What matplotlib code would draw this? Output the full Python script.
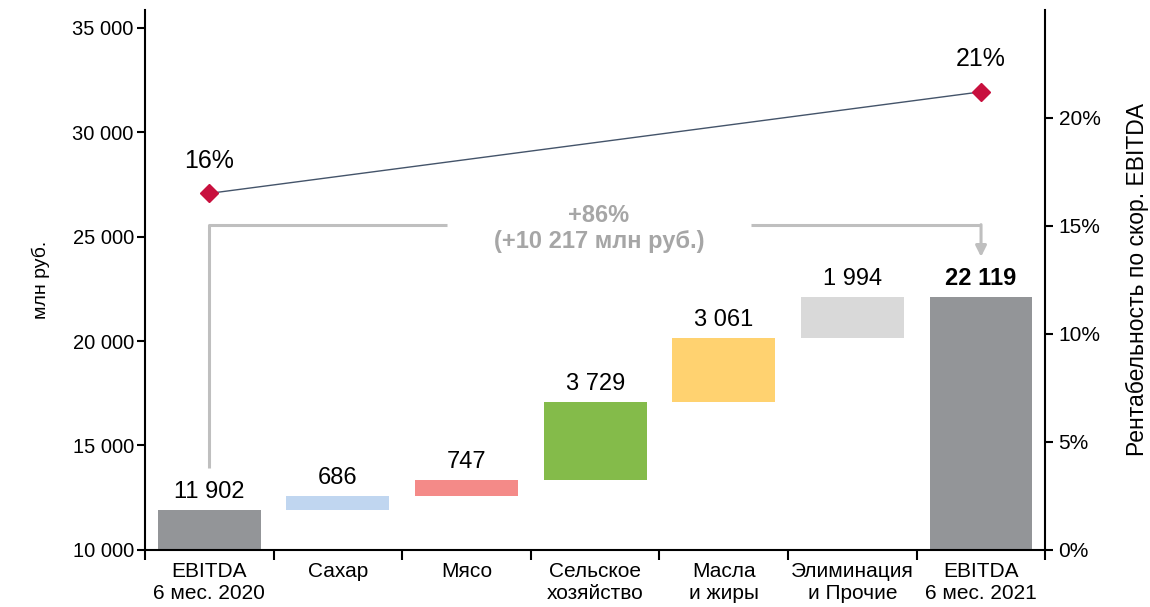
import matplotlib.pyplot as plt
import numpy as np
from matplotlib.ticker import FuncFormatter

plt.rcParams['font.family'] = ['Liberation Sans', 'DejaVu Sans']

# data
categories = ['EBITDA\n6 мес. 2020', 'Сахар', 'Мясо', 'Сельское\nхозяйство',
              'Масла\nи жиры', 'Элиминация\nи Прочие', 'EBITDA\n6 мес. 2021']
start_value = 11902
deltas = [686, 747, 3729, 3061, 1994]
end_value = 22119
labels = ['11 902', '686', '747', '3 729', '3 061', '1 994', '22 119']
colors = ['#939598', '#C0D6F0', '#F48A88', '#84BB4A', '#FFD270', '#D9D9D9', '#939598']
margin_x = [0, 6]
margin_vals = [16.5, 21.2]
margin_labels = ['16%', '21%']
growth_text = '+86%\n(+10 217 млн руб.)'

# waterfall bottoms/heights
bottoms = [0]
heights = [start_value]
run = start_value
for d in deltas:
    bottoms.append(run)
    heights.append(d)
    run += d
bottoms.append(0)
heights.append(end_value)

fig = plt.figure(figsize=(11.5, 6.07), dpi=100, facecolor='white')
ax = fig.add_axes([0.126, 0.094, 0.783, 0.89])
x = np.arange(len(categories))
ax.bar(x, heights, bottom=bottoms, width=0.8, color=colors)
ax.set_xlim(-0.5, 6.5)
ax.set_ylim(10000, 35860)

for i in range(len(x)):
    top = bottoms[i] + heights[i]
    ax.annotate(labels[i], xy=(x[i], top), xytext=(0, 5), textcoords='offset points',
                ha='center', va='bottom', fontsize=17,
                fontweight='bold' if i == len(x) - 1 else 'normal')

# axes styling
ax.spines['top'].set_visible(False)
ax.spines['right'].set_visible(False)
for s in ['left', 'bottom']:
    ax.spines[s].set_linewidth(1.5)
ax.set_yticks(np.arange(10000, 35001, 5000))
ax.yaxis.set_major_formatter(FuncFormatter(lambda v, p: f'{int(v):,}'.replace(',', ' ')))
ax.tick_params(axis='y', direction='out', length=6, width=1.5, labelsize=14.5, pad=2)
ax.set_xticks(np.arange(-0.5, 7, 1))
ax.set_xticklabels([])
ax.tick_params(axis='x', which='major', direction='out', length=7, width=1.5)
ax.set_xticks(x, minor=True)
ax.set_xticklabels(categories, minor=True, fontsize=15, linespacing=1.2)
ax.tick_params(axis='x', which='minor', length=0, pad=9)
ax.set_ylabel('млн руб.', fontsize=14, labelpad=16)

# bracket with arrow
gray = '#BFBFBF'
ax.plot([0, 0, 1.85], [13930, 25570, 25570], color=gray, lw=2.2, solid_capstyle='butt')
ax.plot([4.21, 6], [25570, 25570], color=gray, lw=2.2, solid_capstyle='butt')
ax.annotate('', xy=(6, 24030), xytext=(6, 25570),
            arrowprops=dict(arrowstyle='-|>', color=gray, lw=2.2, mutation_scale=16,
                            shrinkA=0, shrinkB=0))
ax.text(3.03, 25380, growth_text, ha='center', va='center', fontsize=17,
        fontweight='bold', color='#A6A6A6', linespacing=1.15)

# margin on secondary axis
ax2 = ax.twinx()
ax2.set_ylim(0, 25)
ax2.plot(margin_x, margin_vals, color='#44546A', lw=1, marker='D', markersize=9,
         markerfacecolor='#C8103E', markeredgecolor='#C8103E')
for xi, v, t in zip(margin_x, margin_vals, margin_labels):
    ax2.annotate(t, xy=(xi, v), xytext=(0, 15), textcoords='offset points',
                 ha='center', va='bottom', fontsize=18)
ax2.set_yticks([0, 5, 10, 15, 20])
ax2.set_yticklabels(['0%', '5%', '10%', '15%', '20%'])
ax2.tick_params(axis='y', direction='out', length=6, width=1.5, labelsize=15)
for s in ['top', 'left', 'bottom']:
    ax2.spines[s].set_visible(False)
ax2.spines['right'].set_linewidth(1.5)
ax2.set_ylabel('Рентабельность по скор. EBITDA', fontsize=16.5, labelpad=18)

fig.savefig('out.png', dpi=100, facecolor='white')
